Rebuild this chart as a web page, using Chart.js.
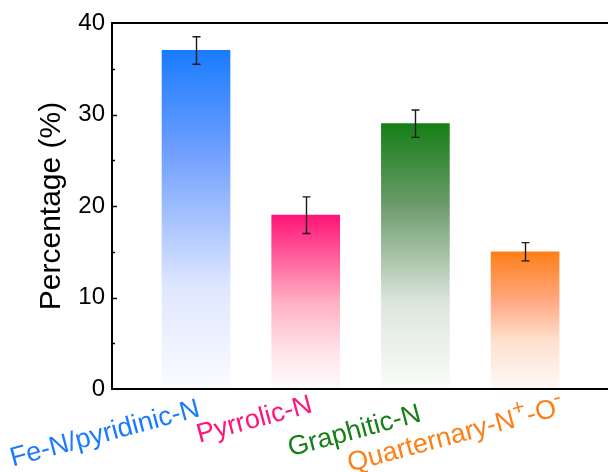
<!DOCTYPE html>
<html>
<head>
<meta charset="utf-8">
<script src="https://cdn.jsdelivr.net/npm/chart.js@4/dist/chart.umd.min.js"></script>
<style>
  html, body { margin: 0; padding: 0; background: #fff; overflow: hidden; }
</style>
</head>
<body>
<canvas id="chart" width="608" height="472"></canvas>
<script>
// data
const categories = ["Fe-N/pyridinic-N", "Pyrrolic-N", "Graphitic-N", "Quarternary-N^+-O^-"];
const percentages = [37, 19, 29, 15];
const errors = [1.5, 2, 1.5, 1];
const yTicks = [0, 10, 20, 30, 40];

const FONT = "'Liberation Sans', Arial, sans-serif";
const labelColors = ["#1a7bff", "#ff1479", "#167f16", "#ff7f17"];
// gradient stops per bar, top -> bottom
const barStops = [
  [[0, "#1a7bff"], [0.3, "#6f9fff"], [0.7, "#dfe7ff"], [1, "#fbfcff"]],
  [[0, "#ff1479"], [0.5, "#ffb0c2"], [0.8, "#ffe6ec"], [1, "#fffbfc"]],
  [[0, "#167f16"], [0.3, "#6a9a6a"], [0.67, "#dce5dc"], [1, "#fbfcfb"]],
  [[0, "#ff7f17"], [0.35, "#ffa880"], [0.65, "#ffe0cf"], [1, "#fffaf7"]]
];
// label anchor tweaks (end of baseline relative to the bar centre)
const labelShift = [[5, 416], [8, 412], [7, 421], [40, 414]];

function barFill(c) {
  const i = c.dataIndex;
  const chart = c.chart;
  if (!chart.chartArea) return labelColors[i];
  const y = chart.scales.y;
  const g = chart.ctx.createLinearGradient(0, y.getPixelForValue(percentages[i]), 0, y.getPixelForValue(0));
  barStops[i].forEach(s => g.addColorStop(s[0], s[1]));
  return g;
}

const frame = {
  id: "frame",
  afterDraw(chart) {
    const { ctx, chartArea: a, scales } = chart;
    ctx.save();
    ctx.strokeStyle = "#000";
    ctx.lineWidth = 2;
    ctx.beginPath();
    ctx.moveTo(a.left - 1, a.top);
    ctx.lineTo(chart.width, a.top);
    ctx.moveTo(a.left - 1, a.bottom);
    ctx.lineTo(chart.width, a.bottom);
    ctx.stroke();
    // inward ticks, minor every 5
    ctx.lineWidth = 1.5;
    for (let v = 5; v < 40; v += 5) {
      const py = Math.round(scales.y.getPixelForValue(v)) + 0.5;
      const len = v % 10 === 0 ? 5 : 3;
      ctx.beginPath();
      ctx.moveTo(a.left, py);
      ctx.lineTo(a.left + len, py);
      ctx.stroke();
    }
    ctx.restore();
  }
};

const errorBars = {
  id: "errorBars",
  afterDatasetsDraw(chart) {
    const { ctx, scales } = chart;
    ctx.save();
    ctx.strokeStyle = "#1a1a1a";
    ctx.lineWidth = 1.4;
    percentages.forEach((v, i) => {
      const x = Math.round(scales.x.getPixelForValue(i + 1)) + 0.5;
      const hi = scales.y.getPixelForValue(v + errors[i]);
      const lo = scales.y.getPixelForValue(v - errors[i]);
      ctx.beginPath();
      ctx.moveTo(x, hi); ctx.lineTo(x, lo);
      ctx.moveTo(x - 4, hi); ctx.lineTo(x + 4, hi);
      ctx.moveTo(x - 4, lo); ctx.lineTo(x + 4, lo);
      ctx.stroke();
    });
    ctx.restore();
  }
};

const xLabels = {
  id: "xLabels",
  afterDraw(chart) {
    const { ctx, scales } = chart;
    const size = 27;
    const supSize = 22;
    categories.forEach((label, i) => {
      const parts = label.split(/\^(.)/);
      let total = 0;
      parts.forEach((p, k) => {
        ctx.font = (k % 2 ? supSize : size) + "px " + FONT;
        total += ctx.measureText(p).width;
      });
      const x = scales.x.getPixelForValue(i + 1) + labelShift[i][0];
      ctx.save();
      ctx.translate(x, labelShift[i][1]);
      ctx.rotate(-15 * Math.PI / 180);
      ctx.fillStyle = labelColors[i];
      ctx.textBaseline = "alphabetic";
      ctx.textAlign = "left";
      let cx = -total;
      parts.forEach((p, k) => {
        const sup = k % 2 === 1;
        ctx.font = (sup ? supSize : size) + "px " + FONT;
        ctx.fillText(p, cx, sup ? -size * 0.42 : 0);
        cx += ctx.measureText(p).width;
      });
      ctx.restore();
    });
  }
};

const ctx = document.getElementById("chart").getContext("2d");
new Chart(ctx, {
  type: "bar",
  data: {
    datasets: [{
      data: percentages.map((v, i) => ({ x: i + 1, y: v })),
      backgroundColor: barFill,
      borderWidth: 0,
      barThickness: 68
    }]
  },
  options: {
    responsive: false,
    animation: false,
    layout: { padding: { top: 23, right: 0, left: 0, bottom: 0 } },
    plugins: { legend: { display: false }, tooltip: { enabled: false } },
    scales: {
      x: {
        type: "linear",
        offset: false,
        min: 0.234,
        max: 4.756,
        grid: { display: false, drawTicks: false },
        ticks: { display: false },
        border: { display: false },
        afterFit: s => { s.height = 83; s.paddingLeft = 0; s.paddingRight = 0; }
      },
      y: {
        min: 0,
        max: 40,
        afterBuildTicks: s => { s.ticks = yTicks.map(v => ({ value: v })); },
        ticks: { font: { size: 24, family: FONT }, color: "#000", padding: 7 },
        grid: { display: false, drawTicks: false },
        border: { color: "#000", width: 2 },
        title: {
          display: true,
          text: "Percentage (%)",
          color: "#000",
          font: { size: 30, family: FONT },
          padding: { top: 34, bottom: 0 }
        },
        afterFit: s => { s.width = 112; s.paddingTop = 0; s.paddingBottom = 0; }
      }
    }
  },
  plugins: [frame, errorBars, xLabels]
});
</script>
</body>
</html>
